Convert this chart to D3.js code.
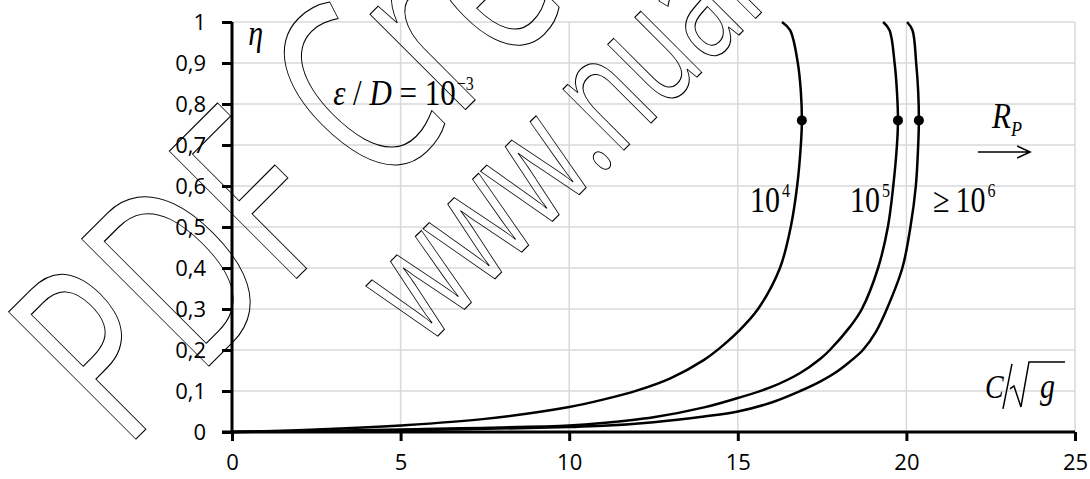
<!DOCTYPE html>
<html>
<head>
<meta charset="utf-8">
<script src="https://cdn.jsdelivr.net/npm/d3@7"></script>
<style>
  body { margin: 0; background: #fff; }
  svg { display: block; }
</style>
</head>
<body>
<div id="chart"></div>
<script>
// axis ticks
var xTicks = [0, 5, 10, 15, 20, 25];
var yTicks = [0, 0.1, 0.2, 0.3, 0.4, 0.5, 0.6, 0.7, 0.8, 0.9, 1];
var yTickLabels = ["0", "0,1", "0,2", "0,3", "0,4", "0,5", "0,6", "0,7", "0,8", "0,9", "1"];

// curves [C/sqrt(g), eta]
var curveRe4 = [[0, 0], [2.5, 0.006], [5, 0.016], [7.5, 0.032], [10, 0.061], [11, 0.079],
  [12, 0.101], [13, 0.131], [14, 0.176], [14.5, 0.207], [15, 0.244], [15.6, 0.3],
  [16.25, 0.4], [16.57, 0.5], [16.76, 0.6], [16.87, 0.7], [16.9, 0.76], [16.87, 0.83],
  [16.78, 0.9], [16.55, 0.98], [16.31, 1.0]];
var curveRe5 = [[0, 0], [5, 0.006], [10, 0.016], [11, 0.022], [12.5, 0.036], [14, 0.06],
  [15, 0.083], [16, 0.11], [16.85, 0.144], [17.44, 0.178], [17.73, 0.2], [18.33, 0.257],
  [18.68, 0.3], [19.16, 0.4], [19.45, 0.5], [19.61, 0.6], [19.72, 0.7], [19.75, 0.76],
  [19.72, 0.83], [19.65, 0.9], [19.5, 0.98], [19.31, 1.0]];
var curveRe6 = [[0, 0], [5, 0.004], [10, 0.012], [11, 0.015], [12.5, 0.024], [14, 0.038],
  [15, 0.05], [16, 0.072], [16.85, 0.1], [17.44, 0.123], [17.9, 0.145], [18.33, 0.172],
  [18.71, 0.2], [19.1, 0.245], [19.42, 0.3], [19.88, 0.4], [20.12, 0.5], [20.28, 0.6],
  [20.35, 0.7], [20.37, 0.76], [20.35, 0.83], [20.29, 0.9], [20.18, 0.98], [20.02, 1.0]];
var curves = [curveRe4, curveRe5, curveRe6];

// black dots on each curve
var markerEta = 0.76;
var markerX = [16.9, 19.75, 20.37];

var width = 1090, height = 479;
var margin = {top: 22, right: 15, bottom: 47, left: 232};

var x = d3.scaleLinear().domain([0, 25]).range([margin.left, width - margin.right]);
var y = d3.scaleLinear().domain([0, 1]).range([height - margin.bottom, margin.top]);

var svg = d3.select("#chart").append("svg")
    .attr("width", width)
    .attr("height", height);

// grid
svg.append("g").selectAll("line").data(yTicks.slice(1))
  .enter().append("line")
    .attr("x1", x(0)).attr("x2", x(25))
    .attr("y1", function(d) { return y(d); })
    .attr("y2", function(d) { return y(d); })
    .attr("stroke", "#d9d9d9").attr("stroke-width", 1.5);

svg.append("g").selectAll("line").data(xTicks.slice(1))
  .enter().append("line")
    .attr("y1", y(0)).attr("y2", y(1))
    .attr("x1", function(d) { return x(d); })
    .attr("x2", function(d) { return x(d); })
    .attr("stroke", "#d9d9d9").attr("stroke-width", 1.5);

// axes
var xAxis = svg.append("g")
    .attr("transform", "translate(0," + y(0) + ")")
    .call(d3.axisBottom(x).tickValues(xTicks).tickSize(9).tickPadding(13)
      .tickFormat(function(d) { return d; }));

var yAxis = svg.append("g")
    .attr("transform", "translate(" + x(0) + ",0)")
    .call(d3.axisLeft(y).tickValues(yTicks).tickSize(10).tickPadding(16)
      .tickFormat(function(d, i) { return yTickLabels[i]; }));

[xAxis, yAxis].forEach(function(a) {
  a.select(".domain").attr("stroke", "#000").attr("stroke-width", 3);
  a.selectAll(".tick line").attr("stroke", "#000").attr("stroke-width", 3);
  a.selectAll(".tick text")
    .attr("fill", "#000")
    .style("font-family", "'Open Sans', sans-serif")
    .style("font-size", "22px");
});
xAxis.select(".domain").attr("d", "M" + (x(0) - 10) + ",0H" + x(25));
yAxis.select(".domain").attr("d", "M0," + y(0) + "V" + y(1));

// curves
var line = d3.line()
    .x(function(d) { return x(d[0]); })
    .y(function(d) { return y(d[1]); })
    .curve(d3.curveCatmullRom.alpha(0.5));

svg.append("g").selectAll("path").data(curves)
  .enter().append("path")
    .attr("d", line)
    .attr("fill", "none")
    .attr("stroke", "#000")
    .attr("stroke-width", 2.5);

svg.append("g").selectAll("circle").data(markerX)
  .enter().append("circle")
    .attr("cx", function(d) { return x(d); })
    .attr("cy", y(markerEta))
    .attr("r", 5)
    .attr("fill", "#000");

// math labels
var serif = "'Liberation Serif', 'Times New Roman', serif";

function mathLabel(px, py, parts, size) {
  var t = svg.append("text")
      .attr("transform", "translate(" + px + "," + py + ") scale(1,1.18)")
      .style("font-family", serif)
      .style("font-size", size + "px")
      .attr("fill", "#000");
  parts.forEach(function(p) {
    var s = t.append("tspan").text(p.t);
    if (p.italic) s.style("font-style", "italic");
    if (p.size) s.style("font-size", p.size + "px");
    if (p.dx) s.attr("dx", p.dx);
    if (p.dy) s.attr("dy", p.dy);
  });
  return t;
}

mathLabel(x(0.48), y(0.943), [{t: "η", italic: true}], 30);
mathLabel(x(3.0), y(0.797), [
  {t: "ε", italic: true}, {t: " / "}, {t: "D", italic: true}, {t: " = 10"},
  {t: "−3", size: 16, dy: -13, dx: 1}
], 31);
mathLabel(x(15.36), y(0.537), [{t: "10"}, {t: "4", size: 16, dy: -13, dx: 2}], 30);
mathLabel(x(18.33), y(0.537), [{t: "10"}, {t: "5", size: 16, dy: -13, dx: 2}], 30);
mathLabel(x(20.79), y(0.537), [{t: "≥"}, {t: "10", dx: 6}, {t: "6", size: 16, dy: -13, dx: 2}], 30);
mathLabel(x(22.54), y(0.741), [{t: "R", italic: true}, {t: "P", italic: true, size: 18, dy: 7}], 31);

// arrow under R_P
var ax0 = x(22.12), ax1 = x(23.67), ay = y(0.683);
svg.append("path")
    .attr("d", "M" + ax0 + "," + ay + "H" + ax1 +
      "M" + (ax1 - 13) + "," + (ay - 6) + "L" + ax1 + "," + ay + "L" + (ax1 - 13) + "," + (ay + 6))
    .attr("fill", "none").attr("stroke", "#000").attr("stroke-width", 1.5);

// C / sqrt(g)
var cx0 = x(22.33), cy0 = y(0.083);
mathLabel(cx0, cy0, [{t: "C", italic: true}], 28);
mathLabel(cx0 + 55, cy0, [{t: "g", italic: true}], 30);
svg.append("path")
    .attr("d", "M" + (cx0 + 27) + "," + (cy0 - 34) + "L" + (cx0 + 18) + "," + (cy0 + 11) +
      "M" + (cx0 + 25) + "," + (cy0 - 9) + "l4,-3 l7,21 l8,-45 h36")
    .attr("fill", "none").attr("stroke", "#000").attr("stroke-width", 1.5);

// watermark
var mark = svg.append("g").attr("pointer-events", "none");
mark.append("text")
    .attr("transform", "translate(124,451) rotate(-45) scale(0.68,1)")
    .style("font-family", "'Open Sans', sans-serif")
    .style("font-size", "252px")
    .attr("fill", "none").attr("stroke", "#000").attr("stroke-width", 1)
    .attr("vector-effect", "non-scaling-stroke")
    .text("PDF Creator");
mark.append("text")
    .attr("transform", "translate(426,348) rotate(-45) scale(0.65,1)")
    .style("font-family", "'Open Sans', sans-serif")
    .style("font-size", "161px")
    .attr("fill", "none").attr("stroke", "#000").attr("stroke-width", 1)
    .attr("vector-effect", "non-scaling-stroke")
    .text("www.nuance.com");
</script>
</body>
</html>
